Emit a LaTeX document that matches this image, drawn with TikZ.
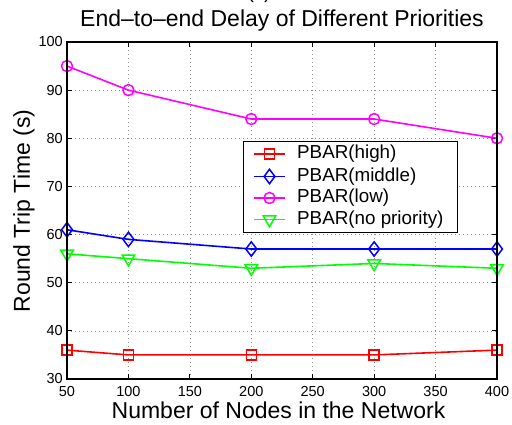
\documentclass[tikz,border=0pt]{standalone}
\usepackage{fontspec}
\setmainfont{Liberation Sans}
\usetikzlibrary{shapes.geometric}

\definecolor{sred}{RGB}{255,0,0}
\definecolor{sblue}{RGB}{0,0,255}
\definecolor{smag}{RGB}{255,0,255}
\definecolor{sgreen}{RGB}{0,255,0}

\tikzset{
  gridline/.style={gray!85, line width=0.7pt, dash pattern=on 1pt off 3pt},
  tickmark/.style={black, line width=1pt},
  frame/.style={black, line width=2.3pt},
  ticklabel/.style={font=\fontsize{14.5}{14.5}\selectfont, inner sep=0pt},
  series/.style={line width=1.6pt},
  mk/.style={inner sep=0pt, line width=1.5pt, fill=none},
  msquare/.style={mk, draw=sred, rectangle, minimum size=10pt},
  mdiamond/.style={mk, draw=sblue, diamond, minimum width=11.5pt, minimum height=15pt},
  mcircle/.style={mk, draw=smag, circle, minimum size=11pt},
  mtri/.style={mk, draw=sgreen, regular polygon, regular polygon sides=3,
    shape border rotate=180, minimum size=14.5pt},
  legtext/.style={font=\fontsize{18.8}{18.8}\selectfont, anchor=west, inner sep=0pt},
}

\begin{document}
\begin{tikzpicture}[x=1pt, y=-1pt]
\useasboundingbox (0,0) rectangle (512,425);
\fill[white] (0,0) rectangle (512,425);

% caption letter above the title, cut by the page edge
\node[font=\fontsize{20}{20}\selectfont, anchor=base, inner sep=0pt] (cap) at (259,-1) {(c)};

% title and axis labels
\node[font=\fontsize{23}{23}\selectfont, anchor=base, inner sep=0pt] (title) at (282,27)
  {End–to–end Delay of Different Priorities};
\node[font=\fontsize{23}{23}\selectfont, anchor=base, inner sep=0pt] (xlabel) at (278.5,418)
  {Number of Nodes in the Network};
\node[font=\fontsize{23}{23}\selectfont, anchor=base, rotate=90, inner sep=0pt] (ylabel) at (30,211)
  {Round Trip Time (s)};

% plot area in data units: x from 50 to 400, y from 30 to 100
\begin{scope}[shift={(5.5714,523.4286)}, x=1.228571pt, y=4.814286pt]
  % grid
  \foreach \v in {100,150,...,350}
    \draw[gridline] (\v,30) -- (\v,100);
  \foreach \w in {40,50,...,90}
    \draw[gridline] (50,\w) -- (400,\w);
  % ticks
  \foreach \v in {50,100,...,400} {
    \draw[tickmark] (\v,30) -- ++(0,5pt);
    \draw[tickmark] (\v,100) -- ++(0,-5pt);
    \node[ticklabel, anchor=base] (xt\v) at ([yshift=-17pt]\v,30) {\v};
  }
  \foreach \w in {30,40,...,100} {
    \draw[tickmark] (50,\w) -- ++(5pt,0);
    \draw[tickmark] (400,\w) -- ++(-5pt,0);
    \node[ticklabel, anchor=east] (yt\w) at ([xshift=-4pt]50,\w) {\w};
  }

  % data points
  \coordinate (h1) at (50,36);  \coordinate (h2) at (100,35); \coordinate (h3) at (200,35);
  \coordinate (h4) at (300,35); \coordinate (h5) at (400,36);
  \coordinate (m1) at (50,61);  \coordinate (m2) at (100,59); \coordinate (m3) at (200,57);
  \coordinate (m4) at (300,57); \coordinate (m5) at (400,57);
  \coordinate (l1) at (50,95);  \coordinate (l2) at (100,90); \coordinate (l3) at (200,84);
  \coordinate (l4) at (300,84); \coordinate (l5) at (400,80);
  \coordinate (n1) at (50,56);  \coordinate (n2) at (100,55); \coordinate (n3) at (200,53);
  \coordinate (n4) at (300,54); \coordinate (n5) at (400,53);

  \draw[series, sred]   (h1) -- (h2) -- (h3) -- (h4) -- (h5);
  \draw[series, sblue]  (m1) -- (m2) -- (m3) -- (m4) -- (m5);
  \draw[series, smag]   (l1) -- (l2) -- (l3) -- (l4) -- (l5);
  \draw[series, sgreen] (n1) -- (n2) -- (n3) -- (n4) -- (n5);

  \foreach \i in {1,...,5} {
    \node[msquare]  (hm\i) at (h\i) {};
    \node[mdiamond] (mm\i) at (m\i) {};
    \node[mcircle]  (lm\i) at (l\i) {};
    \node[mtri]     (nm\i) at (n\i) {};
  }

  % axes frame
  \draw[frame] (50,30) rectangle (400,100);
\end{scope}

% legend
\draw[fill=white, draw=black, line width=0.8pt] (243,141) rectangle (457,232);
\coordinate (la1) at (254,154); \coordinate (lb1) at (285,154);
\coordinate (la2) at (254,176.5); \coordinate (lb2) at (285,176.5);
\coordinate (la3) at (254,198); \coordinate (lb3) at (285,198);
\coordinate (la4) at (254,219.5); \coordinate (lb4) at (285,219.5);
\draw[series, sred]   (la1) -- (lb1);
\draw[series, sblue]  (la2) -- (lb2);
\draw[series, smag]   (la3) -- (lb3);
\draw[series, sgreen] (la4) -- (lb4);
\node[msquare]  (lg1) at (269.5,154) {};
\node[mdiamond] (lg2) at (269.5,176.5) {};
\node[mcircle]  (lg3) at (269.5,198) {};
\node[mtri]     (lg4) at (269.5,219.5) {};
\node[legtext] (lt1) at (297,154) {PBAR(high)};
\node[legtext] (lt2) at (297,176.5) {PBAR(middle)};
\node[legtext] (lt3) at (297,198) {PBAR(low)};
\node[legtext] (lt4) at (297,219.5) {PBAR(no priority)};
\end{tikzpicture}
\end{document}
